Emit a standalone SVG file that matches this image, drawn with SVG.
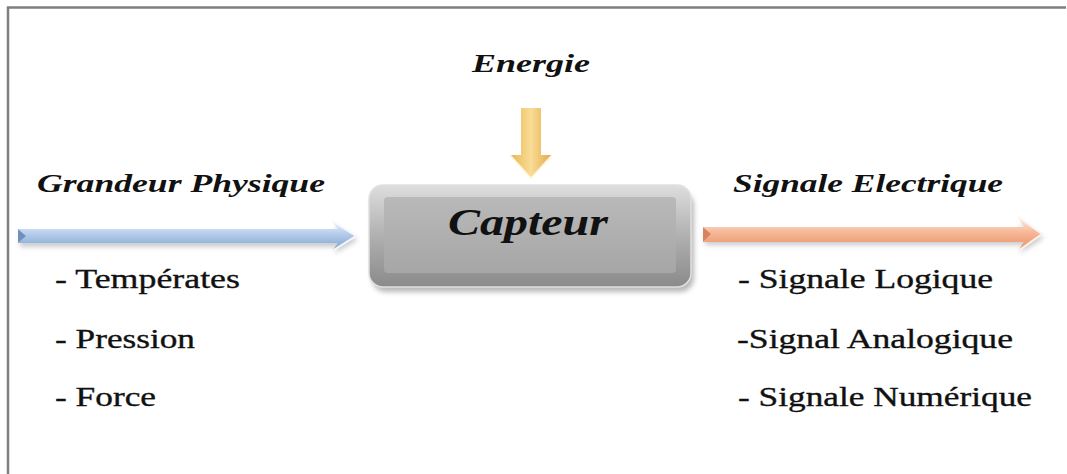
<svg xmlns="http://www.w3.org/2000/svg" width="1067" height="474" viewBox="0 0 1067 474">
  <style>
    .title { font-family: "Liberation Serif", "Times New Roman", serif; font-weight: bold; font-style: italic; fill: #111; }
    .item { font-family: "Liberation Serif", "Times New Roman", serif; font-size: 28px; fill: #111; stroke: #111; stroke-width: 0.35; }
    .frame { stroke: #7f7f7f; stroke-width: 2.5; fill: none; }
  </style>
  <defs>
    <linearGradient id="boxOuter" x1="0" y1="0" x2="0" y2="1">
      <stop offset="0" stop-color="#dedede"/>
      <stop offset="0.5" stop-color="#b0b0b0"/>
      <stop offset="1" stop-color="#8a8a8a"/>
    </linearGradient>
    <linearGradient id="boxFace" x1="0" y1="0" x2="0" y2="1">
      <stop offset="0" stop-color="#b9b9b9"/>
      <stop offset="1" stop-color="#a6a6a6"/>
    </linearGradient>
    <linearGradient id="blueShaft" x1="0" y1="0" x2="0" y2="1">
      <stop offset="0" stop-color="#eaf1fb"/>
      <stop offset="0.45" stop-color="#b3cbea"/>
      <stop offset="0.8" stop-color="#8fb0da"/>
      <stop offset="1" stop-color="#9c9c9c"/>
    </linearGradient>
    <linearGradient id="orangeShaft" x1="0" y1="0" x2="0" y2="1">
      <stop offset="0" stop-color="#fdeee4"/>
      <stop offset="0.45" stop-color="#f6b897"/>
      <stop offset="0.8" stop-color="#ef9c78"/>
      <stop offset="1" stop-color="#a3a3a3"/>
    </linearGradient>
    <linearGradient id="yellowShaft" x1="0" y1="0" x2="1" y2="0">
      <stop offset="0" stop-color="#e9b652"/>
      <stop offset="0.5" stop-color="#f9dc96"/>
      <stop offset="1" stop-color="#e2a944"/>
    </linearGradient>
    <filter id="soft" x="-10%" y="-20%" width="120%" height="150%">
      <feGaussianBlur stdDeviation="2.5"/>
    </filter>
  </defs>

  <!-- frame (top and left rules) -->
  <path class="frame" d="M8,474 V7.5 H1066"/>

  <!-- connectors -->
  <g id="connectors">
    <!-- input arrow: physical quantity -->
    <g id="arrow-in">
      <polygon points="20,233 338,233 334,226 358,240 334,254 338,247 20,247" fill="#9a9a9a" opacity="0.5" filter="url(#soft)"/>
      <polygon points="18,229 338,229 332,221 356,236 332,251 338,243 18,243 26,236" fill="url(#blueShaft)"/>
      <polygon points="18,229 26,236 18,243" fill="#6f8fbf"/>
      <polyline points="332,221 356,236 332,251" fill="none" stroke="#f4f8fd" stroke-width="2"/>
    </g>
    <!-- output arrow: electrical signal -->
    <g id="arrow-out">
      <polygon points="705,232 1024,232 1019,223 1044,238 1019,254 1024,245 705,245" fill="#9a9a9a" opacity="0.5" filter="url(#soft)"/>
      <polygon points="703,227 1024,227 1018,217 1042,234 1018,251 1024,242 703,242 711,234" fill="url(#orangeShaft)"/>
      <polygon points="703,227 711,234 703,242" fill="#d9825f"/>
      <polyline points="1018,217 1042,234 1018,251" fill="none" stroke="#fdf3ec" stroke-width="2"/>
    </g>
    <!-- energy arrow -->
    <g id="arrow-energy">
      <polygon points="521,108 541,108 541,155 552,155 531,178 510,155 521,155" fill="url(#yellowShaft)"/>
      <polyline points="510,155 531,178 552,155" fill="none" stroke="#fff4d8" stroke-width="1.5"/>
    </g>
  </g>

  <!-- sensor block -->
  <g id="capteur">
    <rect x="372" y="192" width="322" height="100" rx="14" fill="#8a8a8a" opacity="0.6" filter="url(#soft)"/>
    <rect x="369" y="185" width="322" height="102" rx="14" fill="url(#boxOuter)" stroke="#e0e0e0" stroke-width="1.5"/>
    <rect x="384" y="197" width="292" height="76" rx="4" fill="url(#boxFace)"/>
    <text class="title" x="528" y="235" font-size="38" text-anchor="middle" textLength="160" lengthAdjust="spacingAndGlyphs">Capteur</text>
  </g>

  <!-- energy label -->
  <g id="energie">
    <text class="title" x="531" y="72" font-size="25" text-anchor="middle" textLength="118" lengthAdjust="spacingAndGlyphs">Energie</text>
  </g>

  <!-- input side -->
  <g id="grandeur-physique">
    <text class="title" x="37" y="192" font-size="26" textLength="288" lengthAdjust="spacingAndGlyphs">Grandeur Physique</text>
    <text class="item" x="55" y="288" textLength="185" lengthAdjust="spacingAndGlyphs">- Températes</text>
    <text class="item" x="55" y="348" textLength="140" lengthAdjust="spacingAndGlyphs">- Pression</text>
    <text class="item" x="55" y="406" textLength="101" lengthAdjust="spacingAndGlyphs">- Force</text>
  </g>

  <!-- output side -->
  <g id="signal-electrique">
    <text class="title" x="733" y="192" font-size="26" textLength="270" lengthAdjust="spacingAndGlyphs">Signale Electrique</text>
    <text class="item" x="738" y="288" textLength="255" lengthAdjust="spacingAndGlyphs">- Signale Logique</text>
    <text class="item" x="737" y="348" textLength="276" lengthAdjust="spacingAndGlyphs">-Signal Analogique</text>
    <text class="item" x="738" y="406" textLength="294" lengthAdjust="spacingAndGlyphs">- Signale Numérique</text>
  </g>
</svg>
